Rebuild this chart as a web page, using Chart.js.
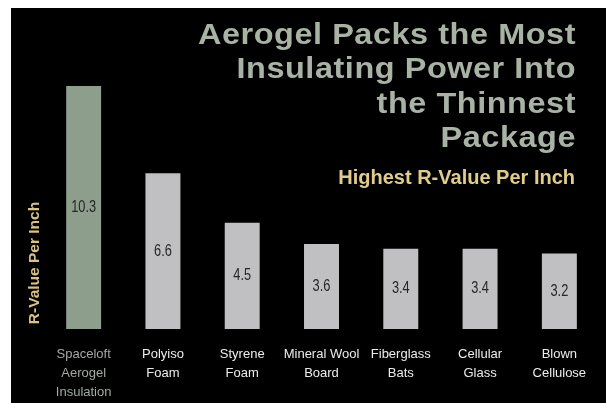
<!DOCTYPE html>
<html>
<head>
<meta charset="utf-8">
<script src="https://cdn.jsdelivr.net/npm/chart.js@4.4.1/dist/chart.umd.min.js"></script>
<style>
  html, body { margin: 0; padding: 0; background: #fff; }
  body { width: 606px; height: 403px; position: relative; overflow: hidden; }
  .panel { position: absolute; left: 11px; top: 8px; width: 595px; height: 395px; background: #000; }
</style>
</head>
<body>
<div class="panel"><canvas id="chart"></canvas></div>
<script>
const categories = [
  ["Spaceloft", "Aerogel", "Insulation"],
  ["Polyiso", "Foam"],
  ["Styrene", "Foam"],
  ["Mineral Wool", "Board"],
  ["Fiberglass", "Bats"],
  ["Cellular", "Glass"],
  ["Blown", "Cellulose"],
];
const rValues = [10.3, 6.6, 4.5, 3.6, 3.4, 3.4, 3.2];
const titleLines = ["Aerogel Packs the Most", "Insulating Power Into", "the Thinnest", "Package"];
const subtitle = "Highest R-Value Per Inch";
const axisTitle = "R-Value Per Inch";

const barColors = ["#8d9e8d", "#c0c0c2", "#c0c0c2", "#c0c0c2", "#c0c0c2", "#c0c0c2", "#c0c0c2"];
const labelColors = ["#a2aaa2", "#ececec", "#ececec", "#ececec", "#ececec", "#ececec", "#ececec"];

const sans = "'Liberation Sans', Arial, sans-serif";

const textPlugin = {
  id: "overlayText",
  afterDatasetsDraw(chart) {
    const ctx = chart.ctx;
    const meta = chart.getDatasetMeta(0);

    // values in the middle of each bar (condensed like the original)
    ctx.save();
    ctx.font = `16px ${sans}`;
    ctx.fillStyle = "#262626";
    ctx.textAlign = "center";
    ctx.textBaseline = "middle";
    meta.data.forEach((bar, i) => {
      const { x, y, base } = bar.getProps(["x", "y", "base"], true);
      ctx.save();
      ctx.translate(x, (y + base) / 2);
      ctx.scale(0.8, 1);
      ctx.fillText(rValues[i].toFixed(1), 0, 0);
      ctx.restore();
    });
    ctx.restore();

    // headline, right aligned over the chart
    ctx.save();
    ctx.font = `bold 29px ${sans}`;
    ctx.letterSpacing = "0.5px";
    ctx.fillStyle = "#a9b3a5";
    ctx.textAlign = "right";
    ctx.textBaseline = "alphabetic";
    const sx = 378 / ctx.measureText(titleLines[0]).width;
    const right = 565;
    titleLines.forEach((line, i) => {
      ctx.save();
      ctx.translate(right, 35.5 + i * 34.6);
      ctx.scale(sx, 1);
      ctx.fillText(line, 0, 0);
      ctx.restore();
    });
    ctx.letterSpacing = "0px";
    ctx.font = `bold 20px ${sans}`;
    ctx.fillStyle = "#e0cc8c";
    ctx.fillText(subtitle, 564, 175.5);
    ctx.restore();

    // rotated axis title
    ctx.save();
    ctx.translate(23.5, 255);
    ctx.rotate(-Math.PI / 2);
    ctx.font = `bold 15.5px ${sans}`;
    ctx.fillStyle = "#d8c284";
    ctx.textAlign = "center";
    ctx.textBaseline = "middle";
    ctx.fillText(axisTitle, 0, 0);
    ctx.restore();
  },
};

new Chart(document.getElementById("chart"), {
  type: "bar",
  data: {
    labels: categories,
    datasets: [
      {
        data: rValues,
        backgroundColor: barColors,
        borderWidth: 0,
        barPercentage: 0.441,
        categoryPercentage: 1,
      },
    ],
  },
  options: {
    responsive: true,
    maintainAspectRatio: false,
    devicePixelRatio: 1,
    animation: false,
    layout: { padding: { top: 78, left: 33, right: 7, bottom: 1 } },
    plugins: {
      legend: { display: false },
      tooltip: { enabled: false },
    },
    scales: {
      x: {
        grid: { display: false, drawTicks: false },
        border: { display: false },
        afterFit(scale) {
          scale.height = 73;
        },
        ticks: {
          padding: 16,
          maxRotation: 0,
          autoSkip: false,
          color: labelColors,
          font: { family: sans, size: 13, lineHeight: "19px" },
        },
      },
      y: {
        display: false,
        min: 0,
        max: 10.3,
      },
    },
  },
  plugins: [textPlugin],
});
</script>
</body>
</html>
